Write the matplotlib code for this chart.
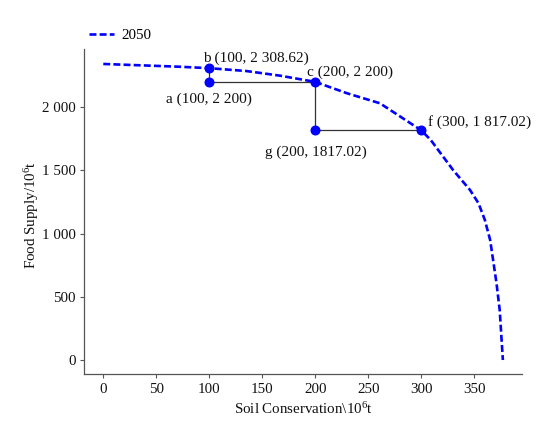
import matplotlib
matplotlib.use("Agg")
import matplotlib.pyplot as plt

plt.rcParams['font.family'] = ['Liberation Serif', 'DejaVu Serif']
plt.rcParams['mathtext.fontset'] = 'custom'
plt.rcParams['mathtext.rm'] = 'Liberation Serif'
plt.rcParams['mathtext.it'] = 'Liberation Serif'
plt.rcParams['lines.scale_dashes'] = False

# frontier curve (2050)
curve_x = [0, 72, 100, 135, 167, 200, 230, 261, 300, 309, 330, 346, 354, 360, 365, 371, 374, 377]
curve_y = [2342, 2320, 2308.62, 2286, 2249, 2200, 2110, 2031, 1817.02, 1740, 1503, 1345,
           1240, 1108, 949, 607, 396, 0]

# labelled points
pt_names = ['a', 'b', 'c', 'f', 'g']
pt_x = [100, 100, 200, 300, 200]
pt_y = [2200, 2308.62, 2200, 1817.02, 1817.02]
pt_labels = ['a (100, 2 200)', 'b (100, 2 308.62)', 'c (200, 2 200)',
             'f (300, 1 817.02)', 'g (200, 1817.02)']

x_ticks = [0, 50, 100, 150, 200, 250, 300, 350]
y_ticks = [0, 500, 1000, 1500, 2000]
y_tick_labels = ['0', '500', '1 000', '1 500', '2 000']

fig = plt.figure(figsize=(5.5, 4.32), dpi=100)
ax = fig.add_axes([0.1527, 0.1336, 0.949 - 0.1527, 0.8859 - 0.1336])

line, = ax.plot(curve_x, curve_y, color='#0000FF', lw=1.9, linestyle='--',
                dashes=(5, 2.3), label='2050', zorder=3)

idx = {n: i for i, n in enumerate(pt_names)}
segs = [('b', 'a'), ('a', 'c'), ('c', 'g'), ('g', 'f')]
for s, e in segs:
    ax.plot([pt_x[idx[s]], pt_x[idx[e]]], [pt_y[idx[s]], pt_y[idx[e]]],
            color='#333333', lw=0.9, zorder=2)

ax.plot(pt_x, pt_y, 'o', color='#0000FF', ms=6.2, zorder=4, linestyle='none')

offsets = {'a': (0, -17.5, 'center'), 'b': (-6, 10, 'left'), 'c': (-8, 10, 'left'),
           'f': (6.5, 8.5, 'left'), 'g': (1, -21.5, 'center')}
for n, x, y, lab in zip(pt_names, pt_x, pt_y, pt_labels):
    dx, dy, ha = offsets[n]
    ax.annotate(lab, (x, y), xytext=(dx, dy), textcoords='offset pixels',
                ha=ha, va='center', fontsize=11, color='#111111')

ax.set_xlim(-18.2, 395)
ax.set_ylim(-113, 2458)
ax.set_xticks(x_ticks)
ax.set_yticks(y_ticks)
ax.set_yticklabels(y_tick_labels)

for sp in ['top', 'right']:
    ax.spines[sp].set_visible(False)
for sp in ['left', 'bottom']:
    ax.spines[sp].set_color('#555555')
    ax.spines[sp].set_linewidth(0.9)
ax.tick_params(axis='both', colors='#555555', labelcolor='#111111',
               labelsize=10.8, length=3, width=0.8, pad=3)

ax.set_xlabel('Soil Conservation\\10$^6$t', fontsize=10.8, color='#111111', labelpad=4)
ax.set_ylabel('Food Supply/10$^6$t', fontsize=10.8, color='#111111')
ax.yaxis.set_label_coords(-0.098, 0.49)

fig.legend(handles=[line], loc='center left', bbox_to_anchor=(89 / 550, 1 - 35 / 432),
           frameon=False, fontsize=10.8, handlelength=1.65, handletextpad=0.5,
           borderpad=0, borderaxespad=0)

fig.savefig('out.png', dpi=100)
